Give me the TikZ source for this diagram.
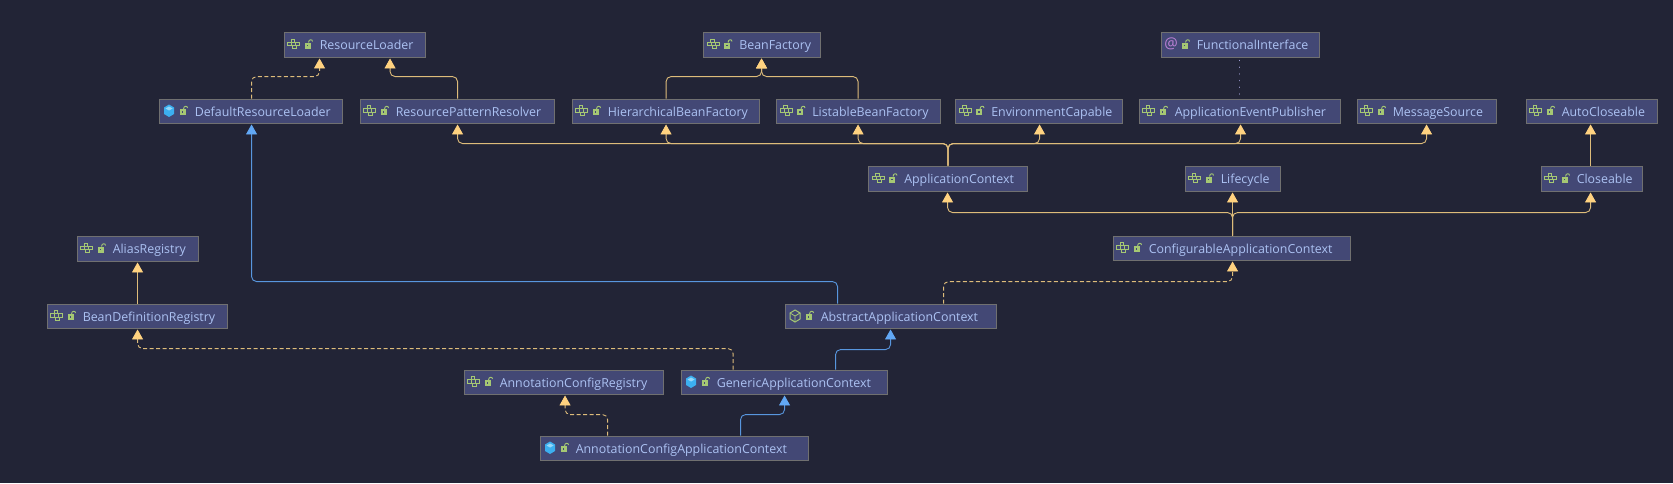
\documentclass[tikz,border=0pt]{standalone}
\usepackage{fontspec}
\setmainfont{Open Sans}
\usetikzlibrary{arrows.meta}
\definecolor{bgc}{RGB}{34,36,54}
\definecolor{boxc}{RGB}{67,72,117}
\definecolor{edgec}{RGB}{112,112,112}
\definecolor{txtc}{RGB}{172,194,243}
\definecolor{icog}{RGB}{165,200,115}
\definecolor{yel}{RGB}{222,188,122}
\definecolor{yelt}{RGB}{255,210,128}
\definecolor{blu}{RGB}{88,150,222}
\definecolor{blut}{RGB}{98,168,245}
\definecolor{cub}{RGB}{60,175,240}
\definecolor{cubl}{RGB}{150,215,250}
\definecolor{pur}{RGB}{190,130,215}
\definecolor{dot}{RGB}{160,160,215}
\tikzset{
  x=1pt,y=-1pt,
  clsbox/.style={draw=edgec,fill=boxc,line width=0.9pt,inner sep=0pt},
  lbl/.style={text=txtc,inner sep=0pt,anchor=base west,font=\fontsize{12.4}{14}\selectfont},
  conn/.style={line width=0.9pt,rounded corners=5pt},
  yarr/.style={-{Triangle[length=10pt,width=11pt,color=yelt,fill=yelt]}},
  barr/.style={-{Triangle[length=10pt,width=11pt,color=blut,fill=blut]}},
  ext/.style={conn,yarr,draw=yel},
  impl/.style={conn,yarr,draw=yel,dash pattern=on 4pt off 2.5pt},
  extb/.style={conn,barr,draw=blu},
  lockico/.pic={
    \fill[icog] (21,-2) rectangle (27,4);
    \fill[boxc] (23.3,0.2) rectangle (24.7,1.8);
    \draw[icog,line width=0.9pt] (25,-2) .. controls (25,-5.5) and (29,-5.5) .. (29,-3);
  },
  ifaceico/.pic={
    \draw[icog,line width=0.9pt] (4,-2.5) rectangle (16,1);
    \draw[icog,line width=0.9pt] (8,-2.5) -- (8,1) (12,-2.5) -- (12,1);
    \draw[icog,line width=0.9pt] (7.5,-2.5) -- (7.5,-5.5) -- (11,-5.5) -- (11,-2.5);
    \draw[icog,line width=0.9pt] (9,1) -- (9,4) -- (13,4) -- (13,1);
    \pic {lockico};
  },
  classico/.pic={
    \fill[cub] (10.5,-6.5) -- (15.5,-3.5) -- (15.5,3) -- (10.5,6) -- (5.5,3) -- (5.5,-3.5) -- cycle;
    \fill[cubl] (10.5,-4.5) -- (14,-2.5) -- (10.5,-0.5) -- (7,-2.5) -- cycle;
    \pic {lockico};
  },
  absico/.pic={
    \draw[icog,line width=1pt] (10.5,-6) -- (15.5,-3) -- (15.5,3) -- (10.5,6) -- (5.5,3) -- (5.5,-3) -- cycle;
    \draw[icog,line width=0.8pt] (5.5,-3) -- (10.5,0) -- (15.5,-3) (10.5,0) -- (10.5,6);
    \pic {lockico};
  },
  annoico/.pic={
    \node[text=pur,inner sep=0pt,font=\fontsize{15}{15}\selectfont] (atsign) at (10.5,-0.5) {@};
    \pic {lockico};
  }
}
\newcommand{\clsnode}[7]{%
  \node[clsbox,minimum width={(#4-#2)*1pt},minimum height={(#5-#3)*1pt}] (#1) at ({(#2+#4)/2},{(#3+#5)/2}) {};
  \pic at (#1.west) {#6};
  \node[lbl] (#1-t) at ([xshift=36pt,yshift=-5pt]#1.west) {#7};
}
\begin{document}
\begin{tikzpicture}
\useasboundingbox (0,0) rectangle (1673,483);
\fill[bgc] (0,0) rectangle (1673,483);
\clsnode{rl}{284}{32}{425}{57}{ifaceico}{ResourceLoader}
\clsnode{bf}{703.5}{32}{820}{57}{ifaceico}{BeanFactory}
\clsnode{fi}{1161}{32}{1319}{57}{annoico}{FunctionalInterface}
\clsnode{drl}{159}{99}{342}{123}{classico}{DefaultResourceLoader}
\clsnode{rpr}{360}{99}{554}{123}{ifaceico}{ResourcePatternResolver}
\clsnode{hbf}{572}{99}{759}{123}{ifaceico}{HierarchicalBeanFactory}
\clsnode{lbf}{776.5}{99}{940}{123}{ifaceico}{ListableBeanFactory}
\clsnode{ec}{955.5}{99}{1122.5}{123}{ifaceico}{EnvironmentCapable}
\clsnode{aep}{1139}{99}{1340}{123}{ifaceico}{ApplicationEventPublisher}
\clsnode{ms}{1357}{99}{1496}{123}{ifaceico}{MessageSource}
\clsnode{ac2}{1526}{99}{1657}{123}{ifaceico}{AutoCloseable}
\clsnode{ctx}{868.5}{166}{1027.5}{191}{ifaceico}{ApplicationContext}
\clsnode{lc}{1185}{166}{1280}{191}{ifaceico}{Lifecycle}
\clsnode{cl}{1541}{166}{1642}{191}{ifaceico}{Closeable}
\clsnode{cac}{1113}{236}{1350.5}{260}{ifaceico}{ConfigurableApplicationContext}
\clsnode{alr}{77}{236}{198}{261}{ifaceico}{AliasRegistry}
\clsnode{bdr}{47}{304}{227}{328}{ifaceico}{BeanDefinitionRegistry}
\clsnode{aac}{785}{304}{996}{328}{absico}{AbstractApplicationContext}
\clsnode{acr}{464}{370}{663.5}{394}{ifaceico}{AnnotationConfigRegistry}
\clsnode{gac}{681}{370}{887}{394}{classico}{GenericApplicationContext}
\clsnode{acac}{540}{436}{808}{460}{classico}{AnnotationConfigApplicationContext}

\draw[impl] ([xshift=93pt]drl.north west) -- ++(0,-22) -| ([xshift=36pt,yshift=-1pt]rl.south west);
\draw[ext] ([xshift=98pt]rpr.north west) -- ++(0,-22) -| ([xshift=106.5pt,yshift=-1pt]rl.south west);
\draw[ext] ([xshift=94.5pt]hbf.north west) -- ++(0,-22) -| ([xshift=58.5pt,yshift=-1pt]bf.south west);
\draw[ext] ([xshift=82pt]lbf.north west) -- ++(0,-22) -| ([xshift=58.5pt,yshift=-1pt]bf.south west);
\draw[line width=1.2pt,dot,line cap=round,dash pattern=on 0.1pt off 6.6pt] ([xshift=79pt,yshift=-3pt]fi.south west) -- ([xshift=101pt,yshift=2pt]aep.north west);
\foreach \tgt/\dx in {rpr/98,hbf/94.5,lbf/82,ec/84.5,aep/102,ms/70}{
  \draw[ext] (ctx.north) -- ++(0,-22) -| ([xshift=\dx pt,yshift=-1pt]\tgt.south west);
}
\foreach \tgt/\dx in {ctx/79.5,cl/50}{
  \draw[ext] ([xshift=120pt]cac.north west) -- ++(0,-23) -| ([xshift=\dx pt,yshift=-1pt]\tgt.south west);
}
\draw[ext] ([xshift=120pt]cac.north west) -- ([xshift=48pt,yshift=-1pt]lc.south west);
\draw[ext] ([xshift=50pt]cl.north west) -- ([xshift=65pt,yshift=-1pt]ac2.south west);
\draw[ext] ([xshift=91pt]bdr.north west) -- ([xshift=61pt,yshift=-1pt]alr.south west);
\draw[impl] ([xshift=159pt]aac.north west) -- ++(0,-22) -| ([xshift=120pt,yshift=-1pt]cac.south west);
\draw[extb] ([xshift=53pt]aac.north west) -- ++(0,-22) -| ([xshift=93pt,yshift=-1pt]drl.south west);
\draw[impl] ([xshift=52.5pt]gac.north west) -- ++(0,-21) -| ([xshift=91pt,yshift=-1pt]bdr.south west);
\draw[extb] ([xshift=155pt]gac.north west) -- ++(0,-20) -| ([xshift=106pt,yshift=-1pt]aac.south west);
\draw[extb] ([xshift=201pt]acac.north west) -- ++(0,-21) -| ([xshift=104pt,yshift=-1pt]gac.south west);
\draw[impl] ([xshift=68pt]acac.north west) -- ++(0,-21) -| ([xshift=101.5pt,yshift=-1pt]acr.south west);
\end{tikzpicture}
\end{document}
